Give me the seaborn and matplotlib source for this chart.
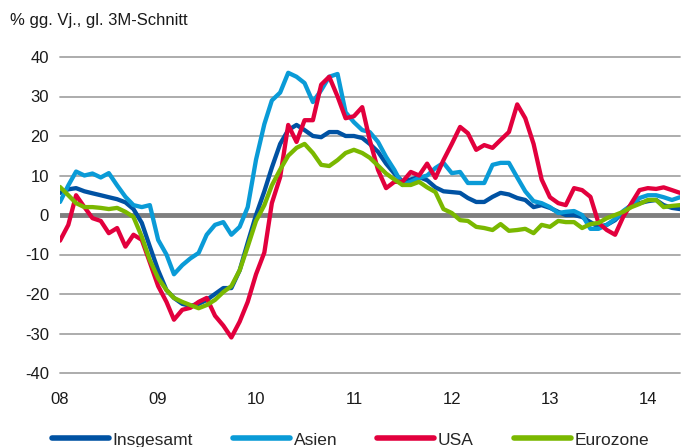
import numpy as np
import pandas as pd
import matplotlib
matplotlib.use('Agg')
import matplotlib.pyplot as plt
import matplotlib.dates as mdates
import seaborn as sns

# monthly values, Jan 2008 - May 2014
months = pd.date_range('2008-01-01', periods=77, freq='MS')

insgesamt = [5.6, 6.5, 6.8, 6.0, 5.5, 5.0, 4.5, 4.0, 3.2, 1.5, -2, -8,
             -14, -19, -21, -22.5, -23, -22.5, -21.5, -20, -18.5, -18.5, -14, -7,
             0, 6, 12, 18, 21.5, 22.8, 21.5, 20, 19.7, 21, 21, 20,
             20, 19.5, 18, 16, 13, 10.5, 8.5, 9, 9.6, 8.8, 7, 6,
             5.8, 5.6, 4.3, 3.3, 3.3, 4.6, 5.6, 5.2, 4.3, 3.8, 2.0, 2.5,
             1.8, 0.8, 0, 0, -0.5, -1.8, -3, -2.5, -1.3, 0.8, 2.5, 3,
             3.5, 3.8, 2.5, 1.8, 1.5]
asien = [3.3, 7.5, 11, 10, 10.5, 9.5, 10.6, 7.5, 4.6, 2.5, 2, 2.5,
         -6.3, -10, -15, -12.7, -11, -9.6, -5, -2.5, -1.8, -5, -3, 2,
         14, 23, 29, 31, 36, 35, 33.4, 28.6, 31.6, 35, 35.7, 26,
         23.5, 21.5, 21, 18.5, 14.7, 11.4, 7.6, 8.4, 9.4, 10, 11.9, 13.2,
         10.6, 10.9, 8.1, 8.1, 8.1, 12.7, 13.2, 13.2, 9.5, 6, 3.5, 3,
         2, 0.5, 0.8, 1, 0, -3.5, -3.5, -2.5, -1, 1, 2.5, 4.3,
         5, 5, 4.5, 3.8, 4.5]
usa = [-6.5, -2.5, 5, 2, -0.8, -1.5, -4.6, -3.3, -8, -5, -6.3, -12,
       -18, -22, -26.5, -24, -23.5, -22, -21, -25.5, -28, -31, -27, -22,
       -15, -9.5, 3, 9.6, 22.8, 18.5, 24, 24, 33, 35, 30, 24.5,
       25, 27.3, 19, 11.4, 6.8, 8.4, 8.4, 10.9, 10, 13, 9.4, 13.9,
       18, 22.3, 20.7, 16.5, 17.7, 17, 19, 21, 28, 24.5, 18, 9,
       4.5, 3, 2.5, 6.8, 6.3, 4.6, -2, -3.8, -5, -0.5, 3, 6.3,
       6.8, 6.6, 7, 6.3, 5.6]
eurozone = [7.1, 5, 3, 2, 2, 1.8, 1.5, 1.8, 0.8, -0.5, -5.5, -11.4,
            -16, -19, -21, -22, -22.8, -23.6, -22.8, -21.5, -19.5, -18, -14, -8,
            -1.5, 2.5, 7.5, 11.5, 15, 17, 18, 15.7, 12.7, 12.4, 13.9, 15.7,
            16.5, 15.7, 14.5, 12.5, 10.5, 9, 7.6, 7.6, 8.4, 7, 5.8, 1.5,
            0.5, -1.3, -1.5, -3, -3.3, -3.8, -2.3, -4, -3.8, -3.5, -4.6, -2.5,
            -3, -1.5, -1.8, -1.8, -3.3, -2.3, -2, -0.8, 0, 0.8, 2, 2.8,
            3.8, 3.8, 2, 2.3, 2.5]

series_names = ['Insgesamt', 'Asien', 'USA', 'Eurozone']
colors = ['#0052A3', '#0A9BD7', '#E2003D', '#7AB800']

df = pd.DataFrame({'Monat': months, 'Insgesamt': insgesamt, 'Asien': asien,
                   'USA': usa, 'Eurozone': eurozone})
df = df.melt(id_vars='Monat', var_name='Region', value_name='Wert')

sns.set_style('white')
plt.rcParams['font.family'] = ['Liberation Sans', 'DejaVu Sans']
plt.rcParams['axes.unicode_minus'] = False

fig = plt.figure(figsize=(6.87, 4.47), dpi=100)
ax = fig.add_axes([60/687, 1 - 373/447, 620/687, 316/447])

for y in range(-40, 41, 10):
    if y != 0:
        ax.axhline(y, color='#A6A6A6', lw=1.3, zorder=0, clip_on=False)
ax.axhline(0, color='#7F7F7F', lw=3.5, zorder=1)

sns.lineplot(data=df, x='Monat', y='Wert', hue='Region', hue_order=series_names,
             palette=colors, lw=3.1, ax=ax, legend=False, zorder=2)

ax.set_ylim(-40, 40)
ax.set_xlim(months[0], months[-1])
ax.set_yticks(range(-40, 41, 10))
ax.xaxis.set_major_locator(mdates.YearLocator())
ax.xaxis.set_major_formatter(mdates.DateFormatter('%y'))
ax.tick_params(axis='both', length=0, labelsize=12, colors='#1A1A1A')
ax.tick_params(axis='x', pad=14)
ax.tick_params(axis='y', pad=8)
for s in ax.spines.values():
    s.set_visible(False)
ax.set_xlabel('')
ax.set_ylabel('')

fig.text(10/687, 1 - 20/447, '% gg. Vj., gl. 3M-Schnitt', fontsize=12,
         color='#1A1A1A', va='center', ha='left')

handles = [plt.Line2D([], [], color=c, lw=4, solid_capstyle='round') for c in colors]
fig.legend(handles, series_names, loc='center', bbox_to_anchor=(0.51, 1 - 440/447),
           ncol=4, frameon=False, fontsize=12.5, handlelength=3.3,
           handletextpad=0.2, columnspacing=2.3)

fig.savefig('out.png', dpi=100)
